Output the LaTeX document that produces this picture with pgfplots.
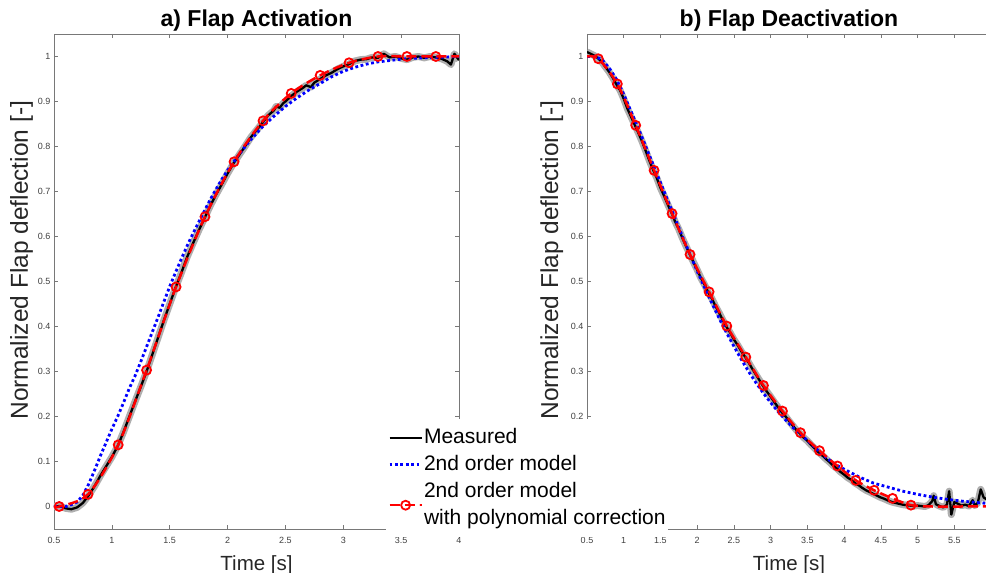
\documentclass[border=0pt]{standalone}
\usepackage{fontspec}
\setmainfont{Liberation Sans}
\usepackage{pgfplots}
\usepackage{pgfplotstable}
\pgfplotsset{compat=1.18}

\definecolor{axgray}{RGB}{120,120,120}
\definecolor{lblgray}{RGB}{38,38,38}
\definecolor{tickgray}{RGB}{64,64,64}
\definecolor{bandgray}{RGB}{175,175,175}

\pgfplotstableread{
x y
0.50 0.000
0.55 0.001
0.60 -0.004
0.65 -0.006
0.70 -0.002
0.75 0.008
0.80 0.025
0.85 0.045
0.90 0.068
0.95 0.089
1.00 0.110
1.05 0.134
1.10 0.165
1.15 0.199
1.20 0.233
1.25 0.266
1.30 0.300
1.35 0.338
1.40 0.376
1.45 0.414
1.50 0.450
1.55 0.486
1.60 0.519
1.65 0.554
1.70 0.584
1.75 0.613
1.80 0.640
1.85 0.668
1.90 0.693
1.95 0.716
2.00 0.740
2.05 0.762
2.10 0.781
2.15 0.800
2.20 0.820
2.25 0.836
2.30 0.852
2.35 0.869
2.40 0.880
2.42 0.889
2.45 0.886
2.48 0.896
2.50 0.900
2.55 0.912
2.60 0.922
2.65 0.930
2.68 0.936
2.72 0.932
2.75 0.942
2.80 0.950
2.85 0.958
2.90 0.964
2.95 0.972
3.00 0.978
3.05 0.983
3.10 0.990
3.15 0.993
3.20 0.994
3.25 0.998
3.30 0.997
3.35 1.006
3.40 0.998
3.45 1.000
3.50 0.996
3.55 0.993
3.60 0.998
3.65 1.000
3.70 0.997
3.75 1.000
3.80 0.998
3.85 0.995
3.90 0.989
3.93 0.982
3.96 1.006
4.00 0.992
}\LeftMeas

\pgfplotstableread{
x y
0.50 0.000
0.60 0.000
0.65 0.004
0.70 0.010
0.75 0.025
0.80 0.050
0.85 0.080
0.90 0.112
0.95 0.142
1.00 0.172
1.05 0.200
1.10 0.230
1.15 0.262
1.20 0.290
1.25 0.322
1.30 0.355
1.35 0.388
1.40 0.421
1.45 0.455
1.50 0.489
1.55 0.520
1.60 0.550
1.65 0.579
1.70 0.606
1.75 0.632
1.80 0.657
1.85 0.682
1.90 0.705
1.95 0.727
2.00 0.747
2.10 0.783
2.20 0.815
2.30 0.843
2.40 0.867
2.50 0.889
2.60 0.908
2.70 0.925
2.80 0.940
2.90 0.955
3.00 0.967
3.10 0.976
3.20 0.983
3.30 0.988
3.40 0.991
3.50 0.994
3.60 0.996
3.70 0.997
3.80 0.998
4.00 1.000
}\LeftModel

\pgfplotstableread{
x y
0.50 0.000
0.545 0.000
0.794 0.027
1.055 0.137
1.30 0.303
1.555 0.488
1.805 0.644
2.056 0.766
2.306 0.857
2.55 0.918
2.80 0.958
3.05 0.986
3.30 1.000
3.55 1.000
3.80 1.000
4.00 1.000
}\LeftCorr

\pgfplotstableread{
x y
0.50 1.010
0.55 1.006
0.60 1.002
0.65 0.996
0.70 0.988
0.75 0.977
0.80 0.966
0.85 0.953
0.90 0.938
0.95 0.925
1.00 0.906
1.05 0.884
1.10 0.866
1.15 0.848
1.20 0.830
1.25 0.811
1.30 0.790
1.35 0.768
1.40 0.748
1.45 0.730
1.50 0.708
1.55 0.690
1.60 0.671
1.65 0.653
1.70 0.633
1.75 0.616
1.80 0.596
1.85 0.578
1.90 0.560
1.95 0.543
2.00 0.526
2.05 0.508
2.10 0.493
2.15 0.476
2.20 0.462
2.25 0.445
2.30 0.430
2.35 0.414
2.40 0.399
2.45 0.386
2.50 0.371
2.55 0.359
2.60 0.345
2.65 0.333
2.70 0.320
2.75 0.306
2.80 0.293
2.85 0.280
2.90 0.267
2.95 0.255
3.00 0.244
3.05 0.232
3.10 0.221
3.15 0.210
3.20 0.201
3.25 0.190
3.30 0.180
3.35 0.170
3.40 0.162
3.45 0.153
3.50 0.146
3.55 0.137
3.60 0.129
3.65 0.121
3.70 0.114
3.75 0.106
3.80 0.099
3.85 0.091
3.90 0.085
3.95 0.077
4.00 0.071
4.05 0.064
4.10 0.059
4.15 0.052
4.20 0.047
4.25 0.041
4.30 0.036
4.35 0.032
4.40 0.028
4.45 0.024
4.50 0.020
4.55 0.017
4.60 0.013
4.65 0.010
4.70 0.008
4.75 0.006
4.80 0.004
4.85 0.003
4.90 0.002
4.95 0.001
5.00 0.002
5.05 0.001
5.10 0.000
5.15 0.003
5.20 0.012
5.22 0.024
5.25 0.005
5.30 0.001
5.35 -0.002
5.40 0.004
5.43 0.034
5.46 -0.018
5.50 0.010
5.55 0.006
5.60 0.002
5.65 0.004
5.70 0.001
5.75 0.014
5.78 0.002
5.82 0.008
5.86 0.038
5.90 0.020
5.94 0.016
}\RightMeas

\pgfplotstableread{
x y
0.50 1.000
0.60 1.000
0.70 0.994
0.80 0.975
0.90 0.950
1.00 0.916
1.10 0.878
1.20 0.840
1.30 0.800
1.40 0.760
1.50 0.720
1.60 0.680
1.70 0.640
1.80 0.600
1.90 0.561
2.00 0.523
2.10 0.487
2.20 0.452
2.30 0.418
2.40 0.386
2.50 0.356
2.60 0.327
2.70 0.300
2.80 0.275
2.90 0.252
3.00 0.231
3.10 0.211
3.20 0.193
3.30 0.176
3.40 0.161
3.50 0.147
3.60 0.132
3.70 0.116
3.80 0.103
3.90 0.092
4.00 0.083
4.20 0.066
4.40 0.052
4.60 0.043
4.80 0.034
5.00 0.027
5.20 0.021
5.40 0.016
5.60 0.012
5.80 0.009
6.00 0.006
}\RightModel

\pgfplotstableread{
x y
0.50 1.000
0.654 0.995
0.913 0.939
1.163 0.847
1.413 0.747
1.658 0.651
1.903 0.560
2.162 0.477
2.403 0.401
2.662 0.332
2.902 0.269
3.161 0.212
3.406 0.164
3.665 0.124
3.910 0.090
4.160 0.058
4.410 0.036
4.660 0.018
4.910 0.003
5.20 0.000
5.60 0.000
5.95 0.000
}\RightCorr

\pgfplotsset{
  myaxis/.style={
    scale only axis, height=495pt,
    anchor=south west,
    ymin=-0.05, ymax=1.05,
    ytick={0,0.1,0.2,0.3,0.4,0.5,0.6,0.7,0.8,0.9,1},
    axis line style={axgray, line width=0.6pt},
    tick style={axgray, line width=0.6pt},
    tick align=inside,
    major tick length=4pt,
    ticklabel style={font=\fontsize{9}{10}\selectfont, color=tickgray},
    /pgf/number format/assume math mode=true,
    xticklabel style={yshift=-5pt},
    label style={color=lblgray},
    xlabel style={font=\fontsize{20.5}{24}\selectfont, at={(axis description cs:0.5,-0.083)}, anchor=base},
    ylabel style={font=\fontsize{24.5}{28}\selectfont},
    title style={font=\bfseries\fontsize{23}{26}\selectfont, at={(0.5,1)}, anchor=base, yshift=1pt},
    xlabel={Time [s]},
    ylabel={Normalized Flap deflection [-]},
    clip=true,
  },
  measband/.style={bandgray, line width=7pt, line join=round},
  meas/.style={black, line width=2.3pt, line join=round},
  model/.style={blue, line width=2.8pt, dash pattern=on 2.8pt off 2.6pt},
  corr/.style={red, line width=2.5pt, dash pattern=on 10pt off 5pt, mark=o, mark size=4.5pt, mark options={solid, line width=1.8pt}},
}

\begin{document}
\begin{tikzpicture}
\useasboundingbox (0,0) rectangle (986pt,573pt);

\begin{axis}[myaxis, at={(54pt,44pt)}, width=405pt,
  xmin=0.5, xmax=4, xtick={0.5,1,1.5,2,2.5,3,3.5,4},
  title={a) Flap Activation},
  ylabel style={at={(axis description cs:-0.080,0.543)}, anchor=center},
]
\addplot[measband, forget plot] table[x=x,y=y] {\LeftMeas};
\addplot[meas] table[x=x,y=y] {\LeftMeas};
\addplot[model] table[x=x,y=y] {\LeftModel};
\addplot[corr, smooth, mark indices={2,3,4,5,6,7,8,9,10,11,12,13,14,15}] table[x=x,y=y] {\LeftCorr};
\end{axis}

\begin{axis}[myaxis, at={(587pt,44pt)}, width=404pt,
  xmin=0.5, xmax=6, xtick={0.5,1,1.5,2,2.5,3,3.5,4,4.5,5,5.5},
  title={b) Flap Deactivation},
  ylabel style={at={(axis description cs:-0.087,0.543)}, anchor=center},
  legend style={at={(axis description cs:-0.4975,0.2222)}, anchor=north west,
    fill=white, draw=none, inner xsep=2pt, inner ysep=5pt,
    font=\fontsize{21}{27}\selectfont, text=black,
    row sep=0pt, column sep=0pt,
    nodes={inner sep=0pt, text depth=}},
  legend cell align=left,
  legend image code/.code={\draw[mark repeat=2,mark phase=2,#1,mark indices={2}] plot coordinates {(0pt,0pt) (16pt,0pt) (32pt,0pt)};},
]
\addplot[measband, forget plot] table[x=x,y=y] {\RightMeas};
\addplot[meas] table[x=x,y=y] {\RightMeas};
\addplot[model] table[x=x,y=y] {\RightModel};
\addplot[corr, smooth, mark indices={2,3,4,5,6,7,8,9,10,11,12,13,14,15,16,17,18,19}] table[x=x,y=y] {\RightCorr};
\addlegendentry{\begin{tabular}{@{\hspace{1pt}}l@{}}Measured\end{tabular}}
\addlegendentry{\begin{tabular}{@{\hspace{1pt}}l@{}}2nd order model\end{tabular}}
\addlegendentry{\begin{tabular}{@{\hspace{1pt}}l@{}}2nd order model\\with polynomial correction\end{tabular}}
\end{axis}
\end{tikzpicture}
\end{document}
